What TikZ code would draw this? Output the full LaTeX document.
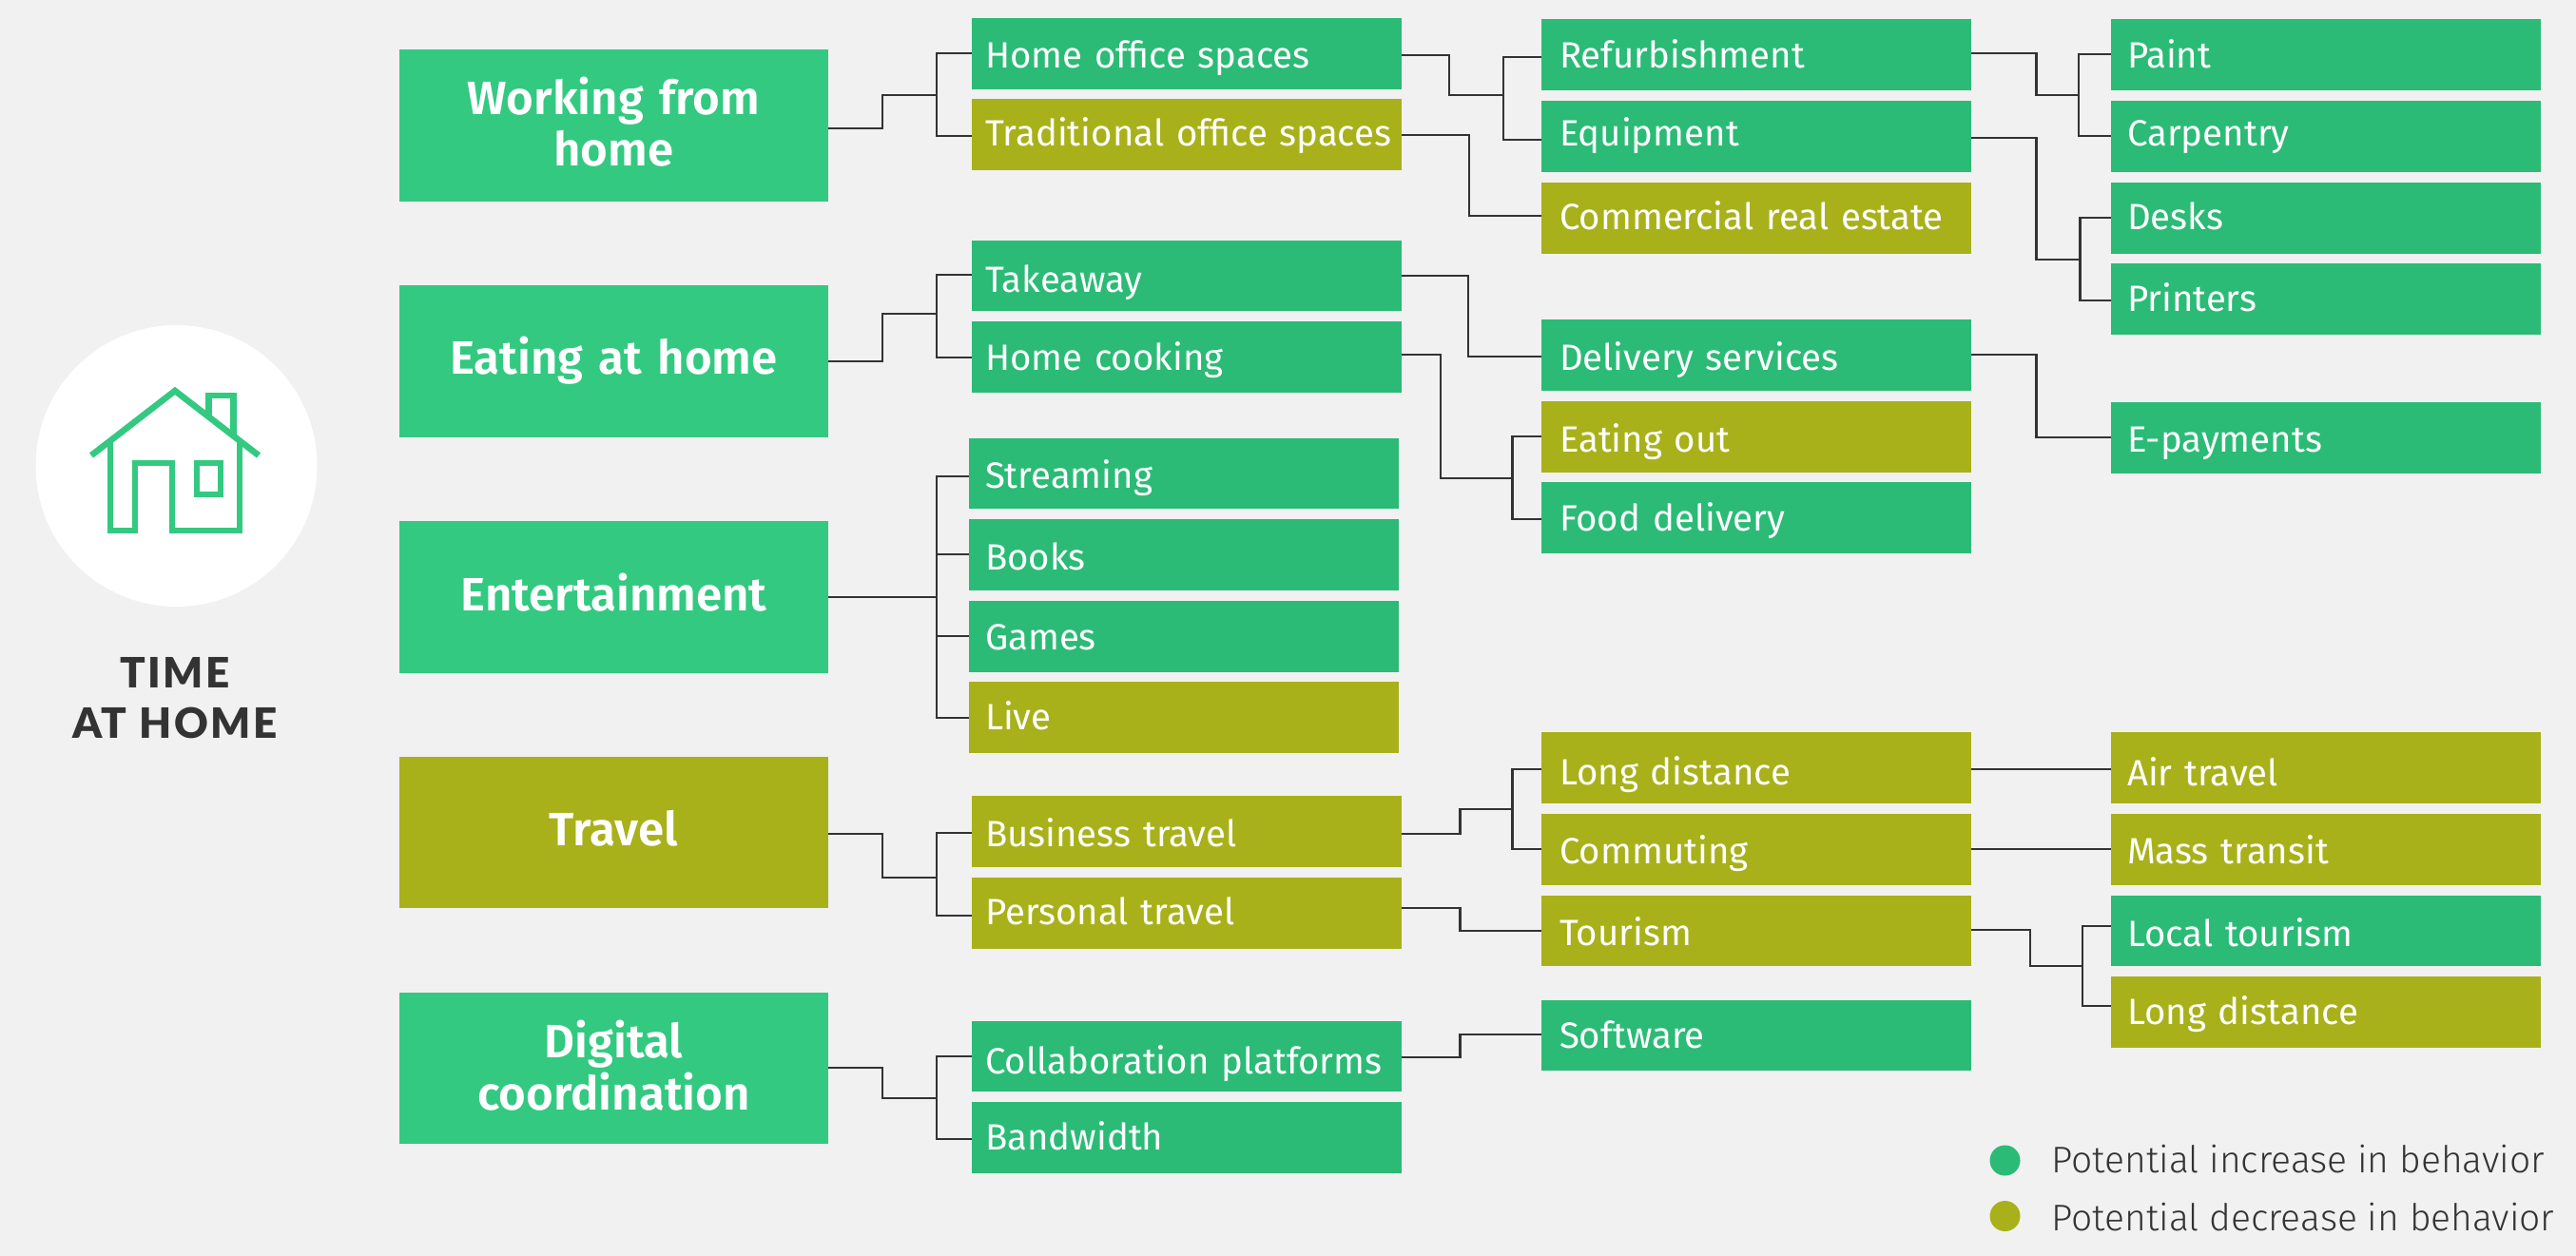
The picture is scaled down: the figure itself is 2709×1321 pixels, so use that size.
\documentclass[tikz,border=0pt]{standalone}
\usepackage{fontspec}
\setmainfont{Fira Sans}
\newfontfamily\titlefam[LetterSpace=6]{Lato Black}
\newfontfamily\legendfam{Fira Sans Light}
\newfontfamily\headfam{Fira Sans SemiBold}
\usetikzlibrary{calc}
\definecolor{pagebg}{HTML}{F1F1F1}
\definecolor{headgreen}{HTML}{33C981}
\definecolor{upgreen}{HTML}{2BBB76}
\definecolor{downolive}{HTML}{A8B11A}
\definecolor{inkdark}{HTML}{333333}
\newcommand\tilefont{\fontsize{19.2}{22}\selectfont}
\newcommand\legendfont{\fontsize{19.5}{22}\selectfont\legendfam}
\newcommand\headfont{\fontsize{24.6}{27}\selectfont\headfam}
% [look]{name}{left}{top}{bottom}{baseline drop}{label}
\newcommand\tile[7][]{%
  \pgfmathsetmacro\tilemid{(#4+#5)/2}%
  \pgfmathsetmacro\tilehgt{(#5-#4)*0.5}%
  \node[tile,#1,minimum height=\tilehgt pt] (#2) at (#3,\tilemid)
    {\raisebox{\dimexpr #6pt/-2-0.5pt\relax}[0pt][0pt]{#7}};}
\newcommand\headtile[7][]{%
  \pgfmathsetmacro\tilemid{(#4+#5)/2}%
  \pgfmathsetmacro\tilehgt{(#5-#4)*0.5}%
  \node[tile,head,#1,minimum height=\tilehgt pt] (#2) at (#3,\tilemid)
    {\raisebox{\dimexpr #6pt/-2-1pt\relax}[0pt][0pt]{\begin{tabular}[t]{@{}c@{}}#7\end{tabular}}};}
\tikzset{
  tile/.style={anchor=west,inner ysep=0pt,outer sep=0pt,text=white,font=\tilefont,
    minimum width=225.75pt,align=left},
  inset/.style={inner xsep=#1*0.5pt,text width={(451.5-2*#1)*0.5pt}},
  head/.style={inner xsep=0pt,text width=224.5pt,minimum width=225.5pt,font=\headfont,align=center,fill=headgreen},
  up/.style={fill=upgreen},
  down/.style={fill=downolive},
  link/.style={draw=inkdark,line width=1.2pt},
  houseline/.style={draw=headgreen,line width=3.3pt,miter limit=10},
  legendtext/.style={anchor=base west,inner sep=0pt,text=inkdark,font=\legendfont},
  legenddot/.style={circle,inner sep=0pt,minimum size=16pt},
}
\begin{document}
\begin{tikzpicture}[x=0.5pt,y=-0.5pt]
\fill[pagebg] (0,0) rectangle (2709,1321);
\useasboundingbox (0,0) rectangle (2709,1321);

% Emblem on the left
\node[circle,fill=white,minimum size=148pt,inner sep=0pt] (emblem) at (185.5,490) {};
\draw[houseline] (96,479) -- (184,411) -- (272,479);
\draw[houseline] (116,463) -- (116,558) -- (142,558) -- (142,487) -- (181,487) -- (181,558) -- (252,558) -- (252,463);
\draw[houseline] (207,487) rectangle (232,520);
\draw[houseline] (219.5,439) -- (219.5,416) -- (245.5,416) -- (245.5,459);
\node[inner sep=0pt,text=inkdark] (title) at (184,723)
  {\raisebox{0pt}[0pt][0pt]{\fontsize{22}{26.5}\selectfont\titlefam\begin{tabular}[t]{@{}c@{}}TIME\\AT HOME\end{tabular}}};

% Behaviour headings
\headtile{work}{420}{52}{212}{-13}{Working from\\home}
\headtile{eat}{420}{300}{460}{11}{Eating at home}
\headtile{ent}{420}{548}{708}{12}{Entertainment}
\headtile[fill=downolive]{trav}{420}{796}{955}{11.5}{Travel}
\headtile{digi}{420}{1044}{1203}{-13.5}{Digital\\coordination}

% Second column
\tile[up,inset=14]{homeoff}{1022}{19}{94}{14}{Home office spaces}
\tile[down,inset=14]{tradoff}{1022}{104}{179}{11}{Traditional office spaces}
\tile[up,inset=14]{takeaway}{1022}{253}{327}{17}{Takeaway}
\tile[up,inset=14]{cooking}{1022}{338}{413}{12.5}{Home cooking}
\tile[up,inset=17]{stream}{1019}{461}{535}{14}{Streaming}
\tile[up,inset=17]{books}{1019}{546}{621}{14.5}{Books}
\tile[up,inset=17]{games}{1019}{632}{707}{12.5}{Games}
\tile[down,inset=17]{live}{1019}{717}{792}{11.5}{Live}
\tile[down,inset=14]{bustrav}{1022}{837}{912}{14.5}{Business travel}
\tile[down,inset=14]{pertrav}{1022}{923}{998}{10.5}{Personal travel}
\tile[up,inset=14]{collab}{1022}{1074}{1148}{17}{Collaboration platforms}
\tile[up,inset=14]{bandw}{1022}{1159}{1234}{11.5}{Bandwidth}

% Third column
\tile[up,inset=19]{refurb}{1621}{20}{95}{13.5}{Refurbishment}
\tile[up,inset=19]{equip}{1621}{106}{181}{9}{Equipment}
\tile[down,inset=19]{commre}{1621}{192}{267}{10.5}{Commercial real estate}
\tile[up,inset=19]{delivery}{1621}{336}{411}{14.5}{Delivery services}
\tile[down,inset=19]{eatout}{1621}{422}{497}{14.5}{Eating out}
\tile[up,inset=19]{fooddel}{1621}{507}{582}{12.5}{Food delivery}
\tile[down,inset=19]{longa}{1621}{770}{845}{16.5}{Long distance}
\tile[down,inset=19]{commute}{1621}{856}{931}{13.5}{Commuting}
\tile[down,inset=19]{tourism}{1621}{942}{1016}{14}{Tourism}
\tile[up,inset=19]{soft}{1621}{1052}{1126}{12}{Software}

% Fourth column
\tile[up,inset=17]{paint}{2220}{20}{95}{13.5}{Paint}
\tile[up,inset=17]{carp}{2220}{106}{181}{9}{Carpentry}
\tile[up,inset=17]{desks}{2220}{192}{267}{11}{Desks}
\tile[up,inset=17]{printers}{2220}{277}{352}{12}{Printers}
\tile[up,inset=17]{epay}{2220}{423}{498}{13.5}{E-payments}
\tile[down,inset=17]{air}{2220}{770}{845}{17.5}{Air travel}
\tile[down,inset=17]{mass}{2220}{856}{931}{14}{Mass transit}
\tile[up,inset=17]{local}{2220}{942}{1016}{15}{Local tourism}
\tile[down,inset=17]{longb}{2220}{1027}{1102}{12}{Long distance}

% Connectors out of the headings
\draw[link] (work.east |- 0,135) -| (928,100) -| (985,56) -- (homeoff.west |- 0,56);
\draw[link] (985,100) |- (tradoff.west |- 0,143);
\draw[link] (eat.east |- 0,380) -| (928,330) -| (985,289) -- (takeaway.west |- 0,289);
\draw[link] (985,330) |- (cooking.west |- 0,376);
\draw[link] (ent.east |- 0,628) -| (985,501) -- (stream.west |- 0,501);
\draw[link] (985,628) |- (books.west |- 0,583);
\draw[link] (985,628) |- (games.west |- 0,669);
\draw[link] (985,628) |- (live.west |- 0,755);
\draw[link] (trav.east |- 0,877) -| (928,923) -| (985,876) -- (bustrav.west |- 0,876);
\draw[link] (985,923) |- (pertrav.west |- 0,963);
\draw[link] (digi.east |- 0,1123) -| (928,1155) -| (985,1111) -- (collab.west |- 0,1111);
\draw[link] (985,1155) |- (bandw.west |- 0,1198);

% Connectors from the second column to the third
\draw[link] (homeoff.east |- 0,58) -| (1524,100) -| (1581,60) -- (refurb.west |- 0,60);
\draw[link] (1581,100) |- (equip.west |- 0,147);
\draw[link] (tradoff.east |- 0,142) -| (1545,227) -- (commre.west |- 0,227);
\draw[link] (takeaway.east |- 0,290) -| (1544,375) -- (delivery.west |- 0,375);
\draw[link] (cooking.east |- 0,373) -| (1515,503) -| (1590.5,459) -- (eatout.west |- 0,459);
\draw[link] (1590.5,503) |- (fooddel.west |- 0,546);
\draw[link] (bustrav.east |- 0,877) -| (1535.5,851) -| (1590.5,809) -- (longa.west |- 0,809);
\draw[link] (1590.5,851) |- (commute.west |- 0,893);
\draw[link] (pertrav.east |- 0,955) -| (1535.5,979) -- (tourism.west |- 0,979);
\draw[link] (collab.east |- 0,1112) -| (1535.5,1088) -- (soft.west |- 0,1088);

% Connectors from the third column to the fourth
\draw[link] (refurb.east |- 0,56) -| (2141.5,100) -| (2186,57) -- (paint.west |- 0,57);
\draw[link] (2186,100) |- (carp.west |- 0,143);
\draw[link] (equip.east |- 0,145) -| (2141.5,273) -| (2187.5,229) -- (desks.west |- 0,229);
\draw[link] (2187.5,273) |- (printers.west |- 0,316);
\draw[link] (delivery.east |- 0,373) -| (2141.5,460) -- (epay.west |- 0,460);
\draw[link] (longa.east |- 0,809) -- (air.west |- 0,809);
\draw[link] (commute.east |- 0,893) -- (mass.west |- 0,893);
\draw[link] (tourism.east |- 0,978) -| (2135,1016) -| (2190,974) -- (local.west |- 0,974);
\draw[link] (2190,1016) |- (longb.west |- 0,1058);

% Legend
\node[legenddot,fill=upgreen] (dotup) at (2108.5,1220.5) {};
\node[legenddot,fill=downolive] (dotdown) at (2108.5,1279) {};
\node[legendtext] (legup) at (2157,1233) {Potential increase in behavior};
\node[legendtext] (legdown) at (2157,1294) {Potential decrease in behavior};
\end{tikzpicture}
\end{document}
